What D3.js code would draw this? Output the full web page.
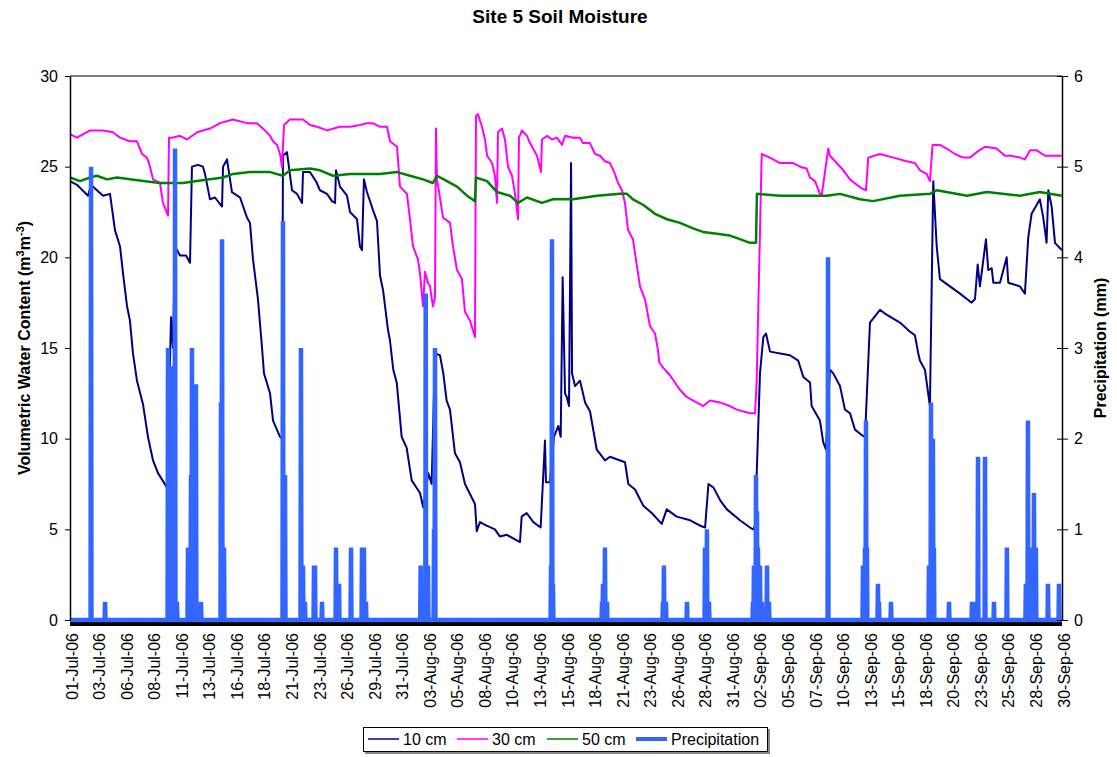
<!DOCTYPE html>
<html>
<head>
<meta charset="utf-8">
<script src="https://cdn.jsdelivr.net/npm/d3@7"></script>
<style>
body { margin: 0; background: #fff; }
text { font-family: Arial, "Liberation Sans", sans-serif; }
</style>
</head>
<body>
<div></div>
<script>
var w = 1117;
var h = 757;
var plotLeft = 70, plotRight = 1062, plotTop = 76, plotBottom = 620;

// values are [days since 01-Jul-06 00:00, reading]
var cm10 = [[0,24.2],[0.65,24.0],[1.67,23.4],[1.95,24.0],[2.32,23.8],[3.06,23.4],[3.71,23.5],[4.17,21.5],[4.64,20.6],[4.92,19.1],[5.29,17.3],[5.56,16.5],[5.84,14.7],[6.21,13.2],[6.77,11.9],[7.23,10.1],[7.70,8.8],[8.16,8.1],[9.00,7.3],[9.18,12.0],[9.37,16.7],[9.55,15.0],[9.74,20.6],[10.20,20.1],[10.76,20.1],[11.13,19.7],[11.31,25.0],[11.87,25.1],[12.33,25.0],[12.52,24.6],[12.98,23.2],[13.45,23.3],[14.10,22.8],[14.19,25.0],[14.56,25.4],[15.02,23.6],[15.77,23.3],[16.41,22.2],[16.69,21.9],[16.97,19.9],[17.43,17.7],[17.81,15.0],[17.99,13.6],[18.55,12.5],[18.83,11.0],[19.48,10.1],[19.66,10.0],[19.75,25.6],[20.12,25.8],[20.59,23.7],[21.05,23.5],[21.52,23.0],[21.61,24.7],[22.26,24.7],[22.81,24.2],[23.18,23.7],[23.83,23.5],[24.30,23.1],[24.58,23.0],[24.67,24.8],[25.04,23.9],[25.69,23.4],[25.97,22.5],[26.62,22.1],[26.89,20.6],[27.08,20.4],[27.26,24.3],[27.54,23.6],[28.10,22.6],[28.47,22.0],[28.75,19.0],[29.03,18.2],[29.49,16.0],[29.68,15.4],[29.98,13.8],[30.30,13.1],[30.76,10.1],[31.22,9.5],[31.69,7.7],[32.46,7.0],[32.76,6.2],[33.23,8.1],[33.54,7.5],[33.85,14.7],[34.31,14.6],[34.62,13.6],[34.93,12.1],[35.24,11.6],[35.70,9.2],[36.17,8.7],[36.63,7.5],[37.56,6.4],[37.72,4.9],[38.02,5.4],[38.64,5.2],[39.41,5.0],[39.88,4.6],[40.50,4.7],[41.73,4.3],[41.89,5.7],[42.35,5.9],[42.97,5.4],[43.65,5.1],[44.05,9.9],[44.14,7.6],[44.51,7.6],[44.88,10.1],[45.29,10.7],[45.51,10.1],[45.69,18.9],[45.91,12.5],[46.07,12.3],[46.28,11.8],[46.47,25.2],[46.56,13.6],[46.84,12.9],[47.30,13.2],[47.77,12.0],[48.23,11.5],[48.85,9.4],[49.62,8.8],[50.08,9.0],[51.47,8.7],[51.78,7.5],[52.40,7.2],[53.17,6.3],[53.95,5.9],[54.88,5.3],[55.34,6.1],[56.27,5.7],[57.51,5.5],[58.44,5.2],[58.90,5.1],[59.21,7.5],[59.68,7.3],[60.30,6.6],[60.92,6.1],[62.13,5.5],[63.06,5.1],[63.37,5.0],[63.53,5.2],[63.99,13.6],[64.30,15.6],[64.55,15.8],[64.92,14.8],[66.77,14.6],[67.54,14.3],[68.01,13.4],[68.63,13.1],[68.78,11.8],[69.55,11.0],[69.86,9.8],[70.11,9.4],[70.48,13.8],[70.79,13.6],[71.41,12.9],[71.87,11.6],[72.34,11.4],[72.80,10.5],[73.42,10.2],[73.73,10.1],[74.19,16.4],[75.12,17.1],[75.58,16.9],[76.97,16.4],[77.90,15.9],[78.36,15.7],[78.67,14.7],[78.83,14.3],[79.29,13.8],[79.75,11.8],[80.06,24.2],[80.38,20.6],[80.68,18.8],[81.61,18.4],[82.54,18.0],[83.62,17.5],[83.93,17.7],[84.18,19.6],[84.39,18.4],[84.95,21.0],[85.16,19.3],[85.48,19.4],[85.63,18.6],[86.25,18.6],[86.87,20.0],[87.02,18.6],[88.10,18.4],[88.56,18.0],[88.87,21.1],[89.18,22.4],[89.95,23.2],[90.26,22.2],[90.57,20.8],[90.73,23.7],[91.04,22.8],[91.35,20.8],[91.98,20.4]];

var cm30 = [[0,26.8],[0.65,26.6],[1.85,27.0],[3.06,27.0],[3.99,26.9],[4.64,26.6],[5.56,26.4],[6.21,26.4],[6.68,25.7],[7.14,25.5],[7.42,25.0],[7.70,24.3],[8.35,24.1],[8.62,23.0],[9.09,22.3],[9.18,26.6],[9.46,26.6],[10.20,26.7],[10.85,26.5],[11.78,26.9],[12.98,27.1],[13.91,27.4],[15.12,27.6],[16.41,27.4],[17.34,27.4],[18.08,27.0],[18.55,26.7],[18.83,26.4],[19.20,26.2],[19.48,25.7],[19.66,25.0],[19.85,27.3],[20.40,27.6],[21.61,27.6],[22.26,27.3],[22.91,27.2],[23.83,27.0],[25.04,27.2],[25.97,27.2],[26.89,27.3],[27.54,27.4],[28.10,27.4],[28.75,27.2],[29.40,27.2],[29.68,26.4],[30.33,26.1],[30.60,23.9],[31.25,23.5],[31.53,22.1],[31.81,20.6],[32.27,19.9],[32.46,19.1],[32.74,17.3],[32.92,19.2],[33.20,18.6],[33.39,18.4],[33.66,17.3],[33.85,17.8],[33.94,27.1],[34.03,24.3],[34.31,23.3],[34.59,22.2],[35.24,21.9],[35.52,20.6],[35.89,19.3],[36.35,18.8],[36.63,17.0],[37.10,16.5],[37.56,15.6],[37.65,27.8],[37.84,27.9],[38.21,27.2],[38.49,26.5],[38.68,25.6],[39.14,25.2],[39.41,24.5],[39.60,23.0],[39.69,26.9],[40.06,27.1],[40.34,26.5],[40.62,25.0],[40.99,24.5],[41.27,23.5],[41.55,22.1],[41.64,26.6],[41.92,27.0],[42.38,26.7],[42.66,26.3],[42.94,26.0],[43.31,25.6],[43.68,24.7],[43.77,26.5],[44.24,26.7],[44.70,26.5],[45.16,26.6],[45.63,26.2],[45.91,26.7],[46.65,26.6],[47.30,26.6],[47.57,26.3],[48.22,26.3],[48.69,25.7],[49.15,25.6],[49.61,25.3],[50.08,25.2],[50.54,24.6],[50.82,24.1],[51.19,23.7],[51.47,23.0],[51.75,21.5],[52.21,21.0],[52.58,19.5],[52.86,18.4],[53.32,17.7],[53.79,16.2],[54.25,15.8],[54.53,14.9],[54.65,14.2],[55.02,13.9],[55.64,13.5],[56.57,12.7],[57.19,12.3],[57.80,12.1],[58.73,11.8],[59.35,12.1],[60.28,12.0],[61.21,11.8],[61.83,11.6],[63.06,11.4],[63.53,11.4],[63.68,13.1],[63.75,15.0],[64.15,25.7],[64.92,25.5],[65.84,25.2],[67.08,25.2],[67.70,25.0],[68.32,24.9],[68.63,24.4],[69.09,24.2],[69.55,23.5],[69.71,23.4],[70.32,26.0],[70.48,25.6],[71.10,25.2],[71.72,24.8],[72.34,24.3],[72.96,24.0],[73.42,23.8],[73.82,23.7],[74.03,25.5],[75.12,25.7],[76.35,25.5],[77.59,25.3],[78.36,25.2],[78.83,24.8],[79.45,24.6],[79.75,24.2],[80.00,26.2],[80.68,26.2],[81.30,26.0],[82.07,25.7],[82.84,25.5],[83.46,25.5],[84.08,25.8],[84.86,26.1],[85.94,26.0],[86.71,25.6],[87.33,25.6],[88.10,25.5],[88.56,25.4],[89.03,25.9],[89.65,25.9],[90.42,25.6],[91.98,25.6]];

var cm50 = [[0,24.4],[0.93,24.2],[1.85,24.4],[2.50,24.5],[3.43,24.3],[4.36,24.4],[5.56,24.3],[6.96,24.2],[8.35,24.1],[10.48,24.1],[11.59,24.2],[12.98,24.3],[14.19,24.4],[15.12,24.6],[16.69,24.7],[18.55,24.7],[19.75,24.5],[20.40,24.8],[22.26,24.9],[23.18,24.8],[24.39,24.5],[25.97,24.6],[27.82,24.6],[28.75,24.6],[30.33,24.7],[31.53,24.5],[32.74,24.3],[33.66,24.1],[34.03,24.5],[34.96,24.2],[35.89,23.9],[36.82,23.4],[37.56,23.1],[37.65,24.4],[38.68,24.2],[39.60,23.6],[40.80,23.4],[41.55,23.0],[42.38,23.3],[43.77,23.0],[44.79,23.2],[46.65,23.2],[48.87,23.4],[51.01,23.5],[51.66,23.5],[52.21,23.2],[53.14,22.9],[54.25,22.4],[55.36,22.1],[56.57,21.9],[57.78,21.6],[58.70,21.4],[60.00,21.3],[61.21,21.2],[62.13,21.0],[63.06,20.8],[63.62,20.8],[63.71,23.5],[65.84,23.4],[67.70,23.4],[70.20,23.4],[71.41,23.5],[73.26,23.2],[74.47,23.1],[76.97,23.4],[79.75,23.5],[80.40,23.7],[83.18,23.4],[85.04,23.6],[88.10,23.4],[89.95,23.6],[91.98,23.4]];

// rainfall readings in mm (all other hours 0)
var precip = [[1.95,5.0],[3.25,0.2],[9.09,3.0],[9.37,2.8],[9.74,5.2],[9.92,0.2],[10.94,0.8],[11.22,1.6],[11.31,3.0],[11.68,2.6],[12.15,0.2],[14.00,2.4],[14.10,4.2],[14.28,0.8],[19.75,4.4],[19.94,1.6],[21.42,3.0],[21.61,0.6],[21.79,0.2],[22.63,0.6],[22.72,0.6],[23.37,0.2],[24.67,0.8],[24.95,0.4],[26.06,0.8],[27.08,0.8],[27.26,0.8],[27.45,0.2],[32.52,0.6],[32.99,3.6],[33.20,0.6],[33.76,1.0],[33.85,3.0],[44.61,0.6],[44.70,4.2],[44.79,0.4],[49.34,0.2],[49.43,0.4],[49.61,0.8],[49.80,0.2],[54.99,0.2],[55.08,0.6],[55.27,0.2],[57.22,0.2],[58.89,0.8],[59.07,1.0],[59.26,0.2],[63.34,0.2],[63.43,0.6],[63.62,1.6],[63.71,1.2],[63.80,0.8],[63.99,0.6],[64.17,0.2],[64.64,0.6],[64.82,0.2],[70.30,4.0],[73.54,0.6],[73.73,0.8],[73.82,2.2],[73.91,0.8],[74.93,0.4],[75.02,0.2],[76.14,0.2],[79.66,0.6],[79.85,2.4],[80.03,2.0],[80.12,0.8],[81.52,0.2],[83.65,0.2],[83.93,0.2],[84.21,1.8],[84.86,1.8],[85.69,0.2],[86.89,0.8],[88.65,0.4],[88.84,2.2],[89.12,0.8],[89.40,1.4],[89.58,0.8],[90.70,0.4],[91.72,0.4]];

var dateLabels = ["01-Jul-06","03-Jul-06","06-Jul-06","08-Jul-06","11-Jul-06","13-Jul-06","16-Jul-06","18-Jul-06","21-Jul-06","23-Jul-06","26-Jul-06","29-Jul-06","31-Jul-06",
	"03-Aug-06","05-Aug-06","08-Aug-06","10-Aug-06","13-Aug-06","15-Aug-06","18-Aug-06","21-Aug-06","23-Aug-06","26-Aug-06","28-Aug-06","31-Aug-06",
	"02-Sep-06","05-Sep-06","07-Sep-06","10-Sep-06","13-Sep-06","15-Sep-06","18-Sep-06","20-Sep-06","23-Sep-06","25-Sep-06","28-Sep-06","30-Sep-06"];
var leftTicks = [0, 5, 10, 15, 20, 25, 30];
var rightTicks = [0, 1, 2, 3, 4, 5, 6];

var series = [
	{name: "10 cm", data: cm10, color: "#000080", width: 2},
	{name: "30 cm", data: cm30, color: "#ff00ff", width: 2},
	{name: "50 cm", data: cm50, color: "#008000", width: 2.5}
];
var precipColor = "#3366ff";
var fontFam = "Arial, 'Liberation Sans', sans-serif";

var start = new Date(2006, 6, 1);
function toDate(d) { return new Date(start.getTime() + d * 864e5); }

var x = d3.scaleTime()
	.domain([start, toDate(92)])
	.range([plotLeft, plotRight]);
var yLeft = d3.scaleLinear().domain([0, 30]).range([plotBottom, plotTop]);
var yRight = d3.scaleLinear().domain([0, 6]).range([plotBottom, plotTop]);
var xLabel = d3.scalePoint().domain(dateLabels).range([plotLeft, plotRight]);

var svg = d3.select("div").append("svg")
	.attr("width", w)
	.attr("height", h);

svg.append("rect").attr("width", w).attr("height", h).attr("fill", "#fff");

//title
svg.append("text")
	.attr("x", 560)
	.attr("y", 23)
	.attr("text-anchor", "middle")
	.attr("font-size", 19)
	.attr("font-weight", "bold")
	.text("Site 5 Soil Moisture");

//plot border top
svg.append("line")
	.attr("x1", plotLeft).attr("x2", plotRight)
	.attr("y1", plotTop).attr("y2", plotTop)
	.attr("stroke", "#808080")
	.attr("stroke-width", 2);

var moistLine = d3.line()
	.x(function(d) { return x(toDate(d[0])); })
	.y(function(d) { return yLeft(d[1]); });

svg.selectAll("path.moist")
	.data(series)
	.enter()
	.append("path")
	.attr("class", "moist")
	.attr("d", function(s) { return moistLine(s.data); })
	.attr("fill", "none")
	.attr("stroke", function(s) { return s.color; })
	.attr("stroke-width", function(s) { return s.width; })
	.attr("stroke-linejoin", "round");

//dense category ticks make a black band under the axis
svg.append("rect")
	.attr("x", plotLeft)
	.attr("y", plotBottom + 0.5)
	.attr("width", plotRight - plotLeft)
	.attr("height", 5.5)
	.attr("fill", "#000");

//precipitation: zero between the rainy hours
var hr = 1 / 24;
var precipSeries = [[0, 0]];
precip.forEach(function(p) {
	precipSeries.push([p[0] - hr, 0]);
	precipSeries.push(p);
	precipSeries.push([p[0] + hr, 0]);
});
precipSeries.push([91.98, 0]);

var rainLine = d3.line()
	.x(function(d) { return x(toDate(d[0])); })
	.y(function(d) { return yRight(d[1]); });

svg.append("path")
	.attr("d", rainLine(precipSeries))
	.attr("fill", "none")
	.attr("stroke", precipColor)
	.attr("stroke-width", 4.5)
	.attr("stroke-linejoin", "bevel");

//left axis
var gLeft = svg.append("g")
	.attr("transform", "translate(" + plotLeft + ",0)")
	.call(d3.axisLeft(yLeft).tickValues(leftTicks).tickFormat(d3.format("d")).tickSize(5).tickSizeOuter(0).tickPadding(7));
gLeft.select(".domain").attr("stroke", "#000").attr("stroke-width", 1.5);
gLeft.selectAll("text").attr("font-size", 16).attr("font-family", fontFam).attr("fill", "#000");

//right axis with crossing ticks
var gRight = svg.append("g")
	.attr("transform", "translate(" + plotRight + ",0)")
	.call(d3.axisRight(yRight).tickValues(rightTicks).tickFormat(d3.format("d")).tickSize(6).tickSizeOuter(0).tickPadding(6));
gRight.select(".domain").attr("stroke", "#000").attr("stroke-width", 1.5);
gRight.selectAll(".tick line").attr("x1", -5);
gRight.selectAll("text").attr("font-size", 16).attr("font-family", fontFam).attr("fill", "#000");

//date labels
svg.selectAll("text.dateLabel")
	.data(dateLabels)
	.enter()
	.append("text")
	.attr("class", "dateLabel")
	.attr("transform", function(d) { return "translate(" + (xLabel(d) + 7.5) + ",633) rotate(-90)"; })
	.attr("text-anchor", "end")
	.attr("font-size", 16)
	.text(function(d) { return d; });

//axis titles
var yTitle = svg.append("text")
	.attr("transform", "translate(30,348) rotate(-90)")
	.attr("text-anchor", "middle")
	.attr("font-size", 16)
	.attr("font-weight", "bold");
yTitle.append("tspan").text("Volumetric Water Content (m");
yTitle.append("tspan").attr("dy", -6).attr("font-size", 11).text("3");
yTitle.append("tspan").attr("dy", 6).text("m");
yTitle.append("tspan").attr("dy", -6).attr("font-size", 11).text("-3");
yTitle.append("tspan").attr("dy", 6).text(")");

svg.append("text")
	.attr("transform", "translate(1106,348) rotate(-90)")
	.attr("text-anchor", "middle")
	.attr("font-size", 16)
	.attr("font-weight", "bold")
	.text("Precipitation (mm)");

//legend
var legendItems = series.map(function(s) { return {name: s.name, color: s.color, width: 1.5}; });
legendItems.push({name: "Precipitation", color: precipColor, width: 4});
var legendX = [368, 457, 547, 636];

svg.append("rect")
	.attr("x", 365).attr("y", 729).attr("width", 405).attr("height", 25)
	.attr("fill", "#888");
svg.append("rect")
	.attr("x", 363.5).attr("y", 727.5).attr("width", 404).attr("height", 24)
	.attr("fill", "#fff").attr("stroke", "#000").attr("stroke-width", 1);

var legend = svg.selectAll("g.legendItem")
	.data(legendItems)
	.enter()
	.append("g")
	.attr("class", "legendItem")
	.attr("transform", function(d, i) { return "translate(" + legendX[i] + ",739)"; });

legend.append("line")
	.attr("x1", 0).attr("x2", 31)
	.attr("stroke", function(d) { return d.color; })
	.attr("stroke-width", function(d) { return d.width; });

legend.append("text")
	.attr("x", 35)
	.attr("y", 6)
	.attr("font-size", 16)
	.text(function(d) { return d.name; });
</script>
</body>
</html>
